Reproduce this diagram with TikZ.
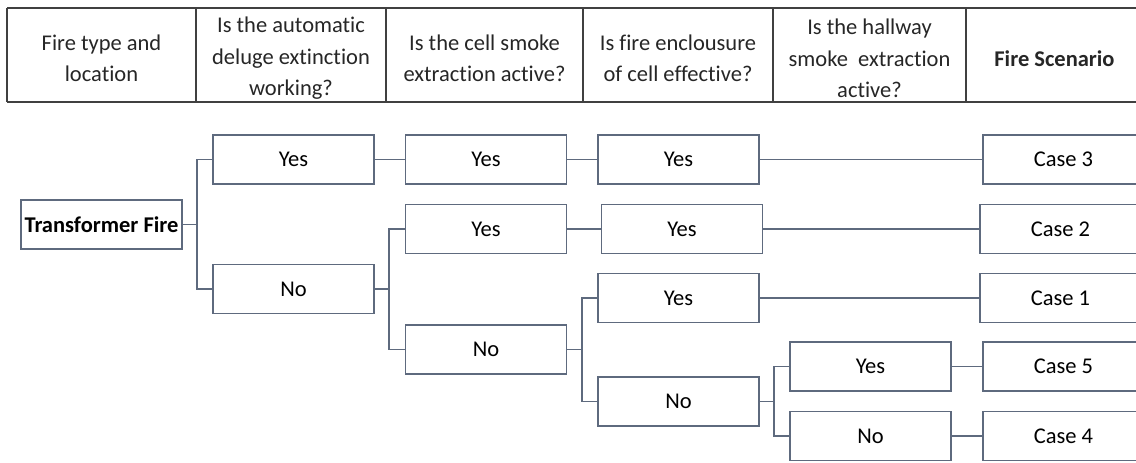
\documentclass[tikz,border=0pt]{standalone}
\usepackage{fontspec}
\setmainfont{Carlito}[Ligatures=NoCommon]
\definecolor{boxline}{RGB}{94,106,126}
\definecolor{headline}{RGB}{64,64,64}
\tikzset{
  choice/.style={draw=boxline, line width=0.9pt, minimum width=80.5pt, minimum height=24.5pt,
    inner sep=0pt, font=\fontsize{11.25}{15.75}\selectfont},
  branch/.style={draw=boxline, line width=0.7pt},
  heading/.style={align=center, text=black!85, font=\fontsize{11.25}{15.75}\selectfont}
}
\begin{document}
\begin{tikzpicture}[x=0.5pt,y=-0.5pt]
  \clip (0,0) rectangle (1136,462);

  % header row
  \draw[headline, line width=0.9pt] (7,8) -- (1140,8);
  \draw[headline, line width=0.9pt] (7,102) -- (1140,102);
  \foreach \xc in {7,196,386,583,773,966}
    \draw[headline, line width=0.9pt] (\xc,8) -- (\xc,102);
  \node[heading] (hfire) at (101.5,58.5) {Fire type and\\location};
  \node[heading] (hdeluge) at (291,58.5) {Is the automatic\\deluge extinction\\working?};
  \node[heading] (hcell) at (484.5,58.5) {Is the cell smoke\\extraction active?};
  \node[heading] (hencl) at (678,58.5) {Is fire enclousure\\of cell effective?};
  \node[heading] (hhall) at (869.5,58.5) {Is the hallway\\smoke~ extraction\\active?};
  \node[heading] (hcase) at (1054.5,58.5) {\bfseries Fire Scenario};

  % decision boxes
  \node[choice] (fire) at (101.5,224.5) {\bfseries Transformer Fire};
  \node[choice] (dyes) at (293.5,159.5) {Yes};
  \node[choice] (dno) at (293.5,289) {No};
  \node[choice] (cyesa) at (486,159.5) {Yes};
  \node[choice] (cyesb) at (486,229) {Yes};
  \node[choice] (cno) at (486,349.5) {No};
  \node[choice] (eyesa) at (678.5,159.5) {Yes};
  \node[choice] (eyesb) at (682,229) {Yes};
  \node[choice] (eyesc) at (678.5,298) {Yes};
  \node[choice] (eno) at (678.5,401.5) {No};
  \node[choice] (hyes) at (870.5,366.5) {Yes};
  \node[choice] (hno) at (870.5,436) {No};

  % scenarios
  \node[choice] (case3) at (1063.5,159.5) {Case 3};
  \node[choice] (case2) at (1060.5,229) {Case 2};
  \node[choice] (case1) at (1060.5,298) {Case 1};
  \node[choice] (case5) at (1063.5,366.5) {Case 5};
  \node[choice] (case4) at (1063.5,436) {Case 4};

  % branch points
  \coordinate (jfire) at (197,224.5);
  \coordinate (jdno) at (389,289);
  \coordinate (jcno) at (582,349.5);
  \coordinate (jeno) at (774,401.5);

  \draw[branch] (fire.east) -- (jfire) |- (dyes.west);
  \draw[branch] (jfire) |- (dno.west);
  \draw[branch] (dno.east) -- (jdno) |- (cyesb.west);
  \draw[branch] (jdno) |- (cno.west);
  \draw[branch] (cno.east) -- (jcno) |- (eyesc.west);
  \draw[branch] (jcno) |- (eno.west);
  \draw[branch] (eno.east) -- (jeno) |- (hyes.west);
  \draw[branch] (jeno) |- (hno.west);

  \draw[branch] (dyes) -- (cyesa);
  \draw[branch] (cyesa) -- (eyesa);
  \draw[branch] (eyesa) -- (case3);
  \draw[branch] (cyesb) -- (eyesb);
  \draw[branch] (eyesb) -- (case2);
  \draw[branch] (eyesc) -- (case1);
  \draw[branch] (hyes) -- (case5);
  \draw[branch] (hno) -- (case4);
\end{tikzpicture}
\end{document}
